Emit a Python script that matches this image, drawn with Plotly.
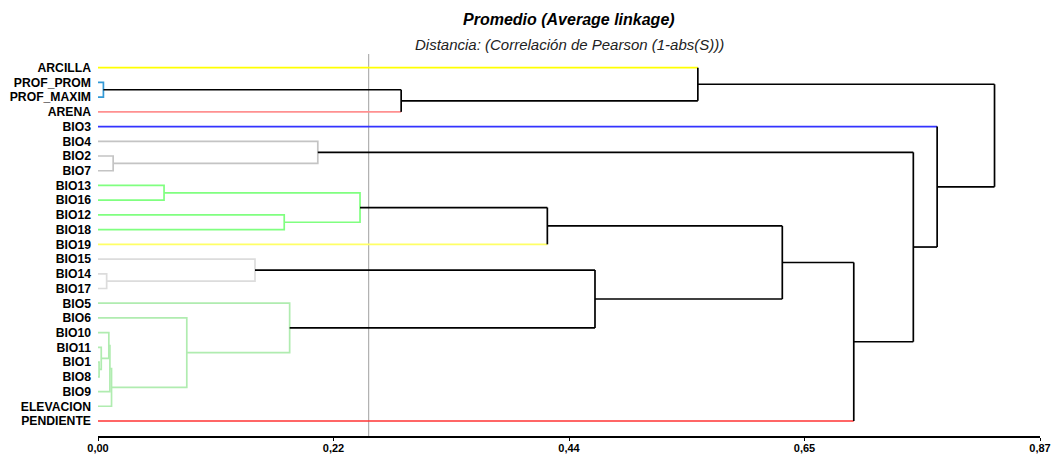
import plotly.graph_objects as go

# ---- data ----
labels = ["ARCILLA", "PROF_PROM", "PROF_MAXIM", "ARENA", "BIO3", "BIO4", "BIO2", "BIO7",
          "BIO13", "BIO16", "BIO12", "BIO18", "BIO19", "BIO15", "BIO14", "BIO17",
          "BIO5", "BIO6", "BIO10", "BIO11", "BIO1", "BIO8", "BIO9", "ELEVACION", "PENDIENTE"]

# merges: (child_a, child_b, height); leaves are 0..24, merge k gets id 25+k
merge_a = [20, 19, 18, 27, 28, 1, 6, 14, 8, 17, 13, 10, 16, 5, 33, 30, 39, 35, 0, 41, 44, 38, 4, 43]
merge_b = [21, 25, 26, 22, 23, 2, 7, 15, 9, 29, 32, 11, 34, 31, 36, 3, 12, 37, 40, 42, 24, 45, 46, 47]
merge_h = [0.001, 0.003, 0.010, 0.011, 0.0125, 0.005, 0.014, 0.008, 0.061, 0.082, 0.145,
           0.172, 0.177, 0.203, 0.242, 0.280, 0.415, 0.459, 0.554, 0.632, 0.698, 0.753,
           0.775, 0.828]

leaf_colors = ["#FFFF00", "#3399D6", "#3399D6", "#FF9090", "#3333FF", "#C4C4C4", "#C4C4C4",
               "#C4C4C4", "#80FF80", "#80FF80", "#80FF80", "#80FF80", "#FFFF66", "#DCDCDC",
               "#DCDCDC", "#DCDCDC", "#B0ECB0", "#B0ECB0", "#B0ECB0", "#B0ECB0", "#B0ECB0",
               "#B0ECB0", "#B0ECB0", "#B0ECB0", "#FF3333"]

threshold = 0.25
tick_vals = [0.0, 0.2175, 0.435, 0.6525, 0.87]
tick_text = ["0,00", "0,22", "0,44", "0,65", "0,87"]

# ---- dendrogram geometry ----
n = len(labels)
ypos = {i: float(i) for i in range(n)}
hgt = {i: 0.0 for i in range(n)}
first_leaf = {i: i for i in range(n)}
segs = {}  # color -> (xs, ys)


def add(color, xs, ys):
    sx, sy = segs.setdefault(color, ([], []))
    sx.extend(xs + [None])
    sy.extend(ys + [None])


for k, (a, b, h) in enumerate(zip(merge_a, merge_b, merge_h)):
    nid = n + k
    ypos[nid] = (ypos[a] + ypos[b]) / 2
    hgt[nid] = h
    first_leaf[nid] = first_leaf[a]
    if h < threshold:
        col = leaf_colors[first_leaf[a]]
        add(col, [hgt[a], h, h, hgt[b]], [ypos[a], ypos[a], ypos[b], ypos[b]])
    else:
        for c in (a, b):
            ccol = leaf_colors[c] if c < n else "#000000"
            add(ccol, [hgt[c], h], [ypos[c], ypos[c]])
        add("#000000", [h, h], [ypos[a], ypos[b]])

fig = go.Figure()
order = [c for c in segs if c != "#000000"] + ["#000000"]
for col in order:
    xs, ys = segs[col]
    fig.add_trace(go.Scatter(x=xs, y=ys, mode="lines",
                             line=dict(color=col, width=1.7),
                             hoverinfo="skip", showlegend=False))

fig.add_shape(type="line", xref="x", yref="paper", x0=threshold, x1=threshold, y0=0, y1=1,
              line=dict(color="#A0A0A0", width=1), layer="below")

H = 458
top, bottom = 54, 22
ph = H - top - bottom

fig.update_layout(
    width=1055, height=458,
    margin=dict(l=98, r=15, t=top, b=bottom),
    paper_bgcolor="white", plot_bgcolor="white",
    font=dict(family="Liberation Sans, Arial", color="black"),
    annotations=[
        dict(text="<b><i>Promedio (Average linkage)</i></b>",
             x=0.5, xref="paper", y=1 + (top - 20) / ph, yref="paper",
             xanchor="center", yanchor="middle", showarrow=False,
             font=dict(size=16, color="black")),
        dict(text="<i>Distancia: (Correlación de Pearson (1-abs(S)))</i>",
             x=0.5, xref="paper", y=1 + (top - 45) / ph, yref="paper",
             xanchor="center", yanchor="middle", showarrow=False,
             font=dict(size=15, color="#222222"))],
    xaxis=dict(range=[0, 0.87], tickvals=tick_vals, ticktext=tick_text, automargin=False,
               showgrid=False, zeroline=False, showline=True, linecolor="black",
               linewidth=1.5, ticks="outside", ticklen=3, tickwidth=1.2, tickcolor="black",
               ticklabelstandoff=-2,
               tickfont=dict(size=11, weight="bold", color="black")),
    yaxis=dict(range=[25.02, -0.93], tickvals=list(range(n)), ticktext=labels, automargin=False,
               showgrid=False, zeroline=False, showline=False, ticks="",
               ticklabelstandoff=6,
               tickfont=dict(size=12.2, weight="bold", color="black")),
)

fig.write_html("out.html")
